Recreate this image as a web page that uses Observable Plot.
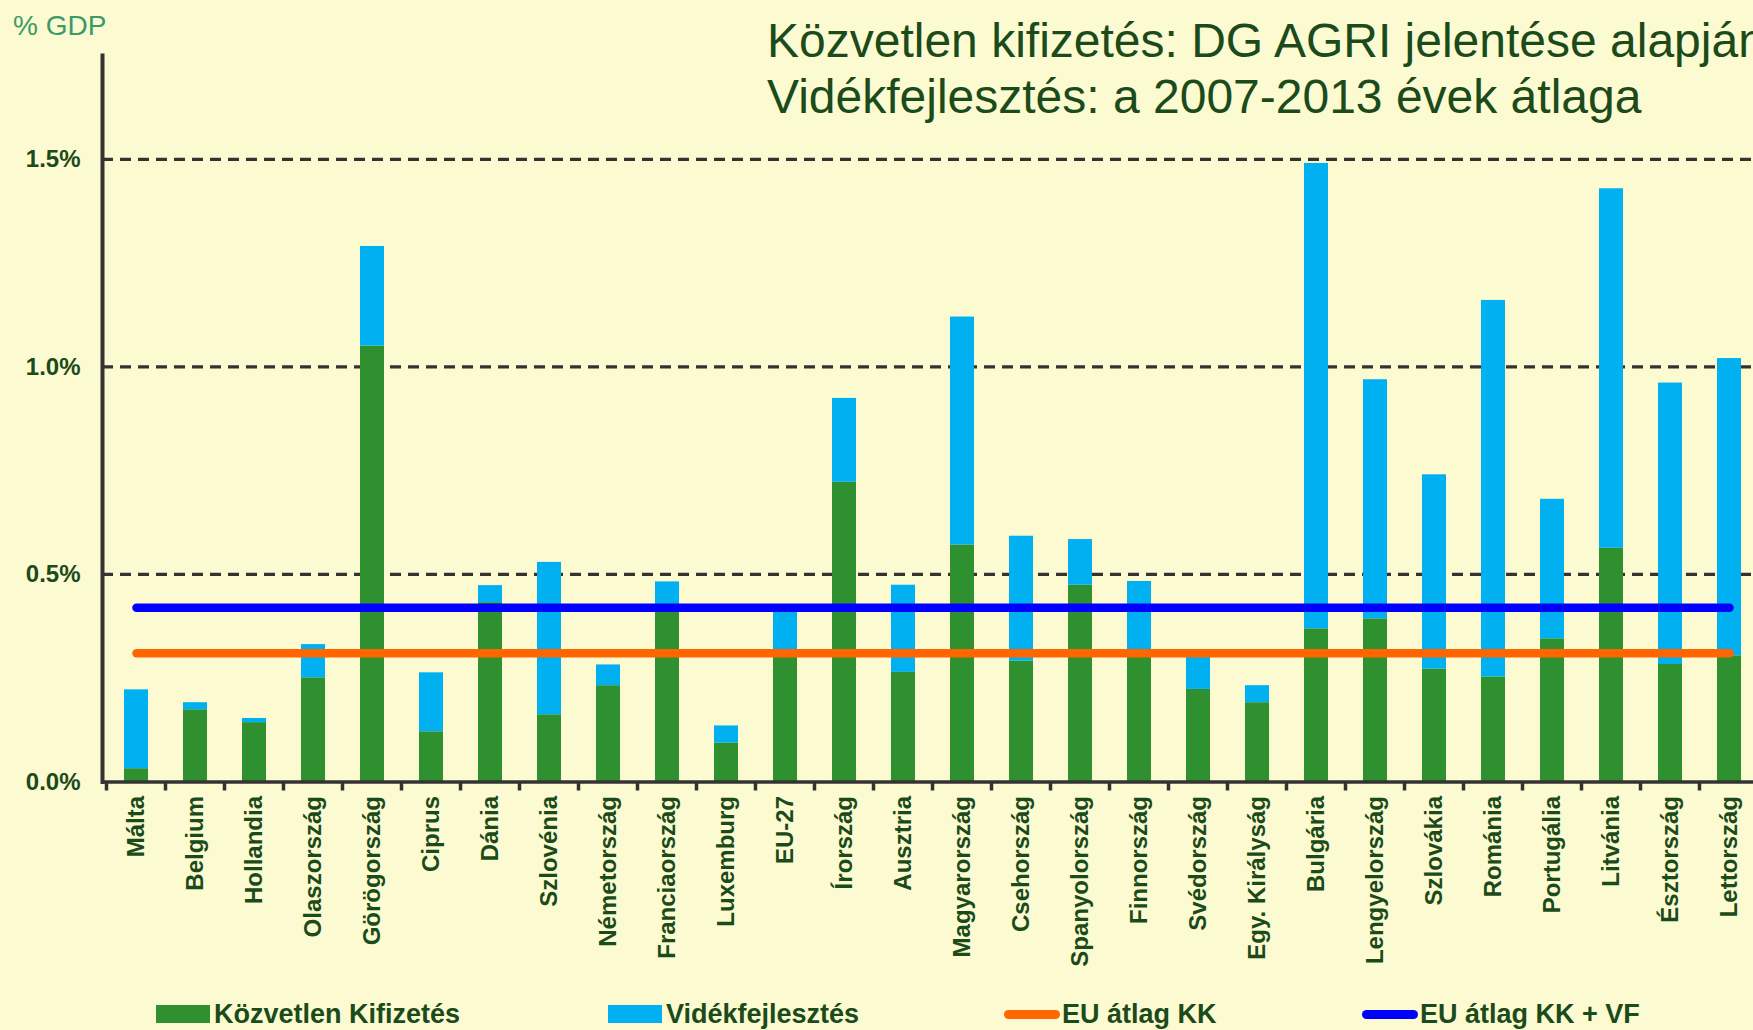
<!DOCTYPE html>
<html>
<head>
<meta charset="utf-8">
<script src="https://cdn.jsdelivr.net/npm/d3@7"></script>
<script src="https://cdn.jsdelivr.net/npm/@observablehq/plot@0.6"></script>
<style>
  html, body { margin: 0; padding: 0; background: #FCFAD0; overflow: hidden; }
  #wrap { position: relative; width: 1753px; height: 1030px; overflow: hidden; font-family: "Liberation Sans", Arial, sans-serif; }
  #chart { position: absolute; left: 0; top: 0; }
  #unit { position: absolute; left: 13px; top: 12px; font-size: 28px; line-height: 28px; color: #3b9a68; }
  #title { position: absolute; left: 767px; top: 13px; font-size: 48px; line-height: 56px; color: #1b4a1b; white-space: nowrap; }
  .leg { position: absolute; top: 998px; height: 32px; display: flex; align-items: center; font-size: 27px; line-height: 32px; font-weight: bold; color: #1b4a1b; white-space: nowrap; }
  .sw { width: 54px; height: 18px; margin-right: 4px; }
  .ln { width: 56px; height: 9px; border-radius: 4.5px; margin-right: 2px; }
</style>
</head>
<body>
<div id="wrap">
  <div id="chart"></div>
  <div id="unit">% GDP</div>
  <div id="title">Közvetlen kifizetés: DG AGRI jelentése alapján<br>Vidékfejlesztés: a 2007-2013 évek átlaga</div>
  <div id="legend"></div>
</div>
<script>
const countries = ["Málta","Belgium","Hollandia","Olaszország","Görögország","Ciprus","Dánia","Szlovénia","Németország","Franciaország","Luxemburg","EU-27","Írország","Ausztria","Magyarország","Csehország","Spanyolország","Finnország","Svédország","Egy. Királyság","Bulgária","Lengyelország","Szlovákia","Románia","Portugália","Litvánia","Észtország","Lettország"];
const kozvetlen = [0.032,0.174,0.143,0.251,1.05,0.121,0.432,0.162,0.232,0.42,0.094,0.31,0.722,0.264,0.571,0.291,0.474,0.305,0.223,0.191,0.369,0.393,0.272,0.253,0.345,0.563,0.283,0.304];
const videk = [0.190,0.017,0.010,0.080,0.24,0.142,0.041,0.367,0.050,0.062,0.041,0.11,0.202,0.21,0.549,0.301,0.11,0.178,0.077,0.041,1.121,0.576,0.468,0.907,0.336,0.866,0.678,0.716];
const euAtlagKK = 0.31;
const euAtlagKKVF = 0.42;
const seriesNames = ["Közvetlen Kifizetés", "Vidékfejlesztés"];
const lineNames = ["EU átlag KK", "EU átlag KK + VF"];
const yTicks = [0, 0.5, 1.0, 1.5];

const seriesColors = ["#2F902F", "#00B0F0"];
const lineColors = ["#FF6600", "#0000FF"];
const ink = "#1b4a1b";
const axisInk = "#333333";

const rows = [];
countries.forEach((c, i) => {
  rows.push({country: c, series: seriesNames[0], value: kozvetlen[i]});
  rows.push({country: c, series: seriesNames[1], value: videk[i]});
});

const chart = Plot.plot({
  width: 1762,
  height: 990,
  marginLeft: 102,
  marginRight: 0,
  marginTop: 55,
  marginBottom: 208.5,
  style: {background: "transparent", maxWidth: "none", fontFamily: "Liberation Sans, Arial, sans-serif", color: ink, overflow: "visible"},
  x: {domain: countries, paddingInner: 0.595, paddingOuter: 0.2975, label: null},
  y: {domain: [0, 1.75], label: null},
  color: {domain: seriesNames, range: seriesColors},
  marks: [
    Plot.ruleY(yTicks.filter(d => d > 0), {stroke: axisInk, strokeWidth: 3.2, strokeDasharray: "11,7"}),
    Plot.barY(rows, {x: "country", y: "value", fill: "series", inset: 0}),
    Plot.lineY(countries, {x: d => d, y: () => euAtlagKK, stroke: lineColors[0], strokeWidth: 8.5, strokeLinecap: "round"}),
    Plot.lineY(countries, {x: d => d, y: () => euAtlagKKVF, stroke: lineColors[1], strokeWidth: 8.5, strokeLinecap: "round"}),
    Plot.ruleY([0], {stroke: axisInk, strokeWidth: 3.5}),
    Plot.frame({anchor: "left", stroke: axisInk, strokeWidth: 4}),
    Plot.axisX({tickRotate: -90, tickSize: 0, tickPadding: 14, fontSize: 24, fontWeight: "bold", fill: ink}),
    Plot.axisY({ticks: yTicks, tickFormat: d => d.toFixed(1) + "%", tickSize: 0, tickPadding: 22, fontSize: 24, fontWeight: "bold", fill: ink})
  ]
});
document.getElementById("chart").appendChild(chart);

// category boundary ticks below the x axis, placed with the plot's own x scale
const xs = chart.scale("x");
const ys = chart.scale("y");
const step = xs.step;
const bw = xs.bandwidth;
const y0 = ys.apply ? ys.apply(0) : 781.5;
const svg = d3.select(chart.tagName.toLowerCase() === "svg" ? chart : chart.querySelector("svg"));
const g = svg.append("g").attr("stroke", axisInk).attr("stroke-width", 3.5);
countries.forEach((c, i) => {
  let left;
  if (xs.apply) left = xs.apply(c);
  else left = xs.range[0] + step * (xs.paddingOuter + i);
  const bx = left + bw / 2 - step / 2;
  g.append("line").attr("x1", bx).attr("x2", bx).attr("y1", y0).attr("y2", y0 + 9);
});

// legend
const legend = document.getElementById("legend");
const items = [
  {name: seriesNames[0], color: seriesColors[0], kind: "sw", left: 156},
  {name: seriesNames[1], color: seriesColors[1], kind: "sw", left: 608},
  {name: lineNames[0], color: lineColors[0], kind: "ln", left: 1004},
  {name: lineNames[1], color: lineColors[1], kind: "ln", left: 1362}
];
items.forEach(it => {
  const d = document.createElement("div");
  d.className = "leg";
  d.style.left = it.left + "px";
  const s = document.createElement("span");
  s.className = it.kind;
  s.style.background = it.color;
  d.appendChild(s);
  const t = document.createElement("span");
  t.textContent = it.name;
  d.appendChild(t);
  legend.appendChild(d);
});
</script>
</body>
</html>
